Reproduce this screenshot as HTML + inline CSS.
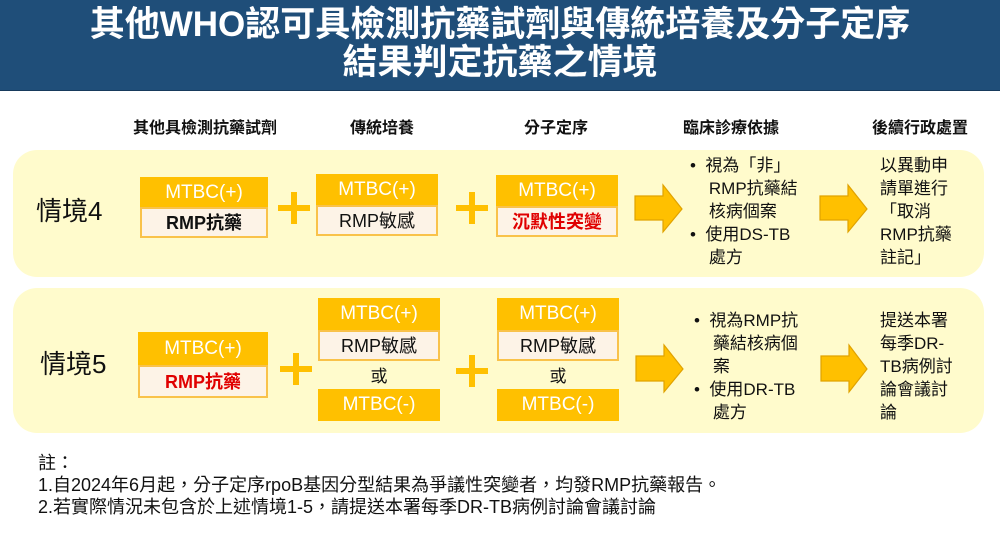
<!DOCTYPE html>
<html><head><meta charset="utf-8"><style>
body{margin:0;width:1000px;height:533px;background:#fff;position:relative;overflow:hidden;font-family:"Liberation Sans","Noto Sans CJK TC",sans-serif;}
.a{position:absolute;}
.hdr{left:0;top:0;width:1000px;height:91px;background:#1f4e79;border-bottom:1px solid #173a5c;color:#fff;font-weight:bold;font-size:35px;text-align:center;line-height:38px;padding-top:6px;box-sizing:border-box;white-space:nowrap;}
.col{top:114px;font-weight:bold;font-size:16px;text-align:center;width:200px;color:#111;}
.pan{background:#fffbcc;border-radius:24px;left:13px;width:971px;}
.t{background:#ffc000;color:#fff;font-size:19px;text-align:center;}
.b{background:#fdf3e7;border:2px solid #f9c24a;box-sizing:border-box;text-align:center;font-size:18px;color:#111;}
.plus{width:32px;height:32px;}
.plus:before{content:"";position:absolute;left:0;top:13px;width:32px;height:6px;background:#ffc000;}
.plus:after{content:"";position:absolute;left:13px;top:0;width:6px;height:32px;background:#ffc000;}
.lbl{font-size:26px;color:#111;}
.txt{font-size:17px;line-height:23px;color:#111;}
.note{left:38px;font-size:18px;line-height:22px;color:#111;white-space:nowrap;}
</style></head><body>
<div class="a hdr">其他WHO認可具檢測抗藥試劑與傳統培養及分子定序<br>結果判定抗藥之情境</div>
<div class="a col" style="left:105px">其他具檢測抗藥試劑</div>
<div class="a col" style="left:282px">傳統培養</div>
<div class="a col" style="left:456px">分子定序</div>
<div class="a col" style="left:631px">臨床診療依據</div>
<div class="a col" style="left:820px">後續行政處置</div>

<div class="a pan" style="top:150px;height:127px"></div>
<div class="a pan" style="top:288px;height:145px"></div>

<div class="a lbl" style="left:36px;top:191px">情境4</div>
<div class="a lbl" style="left:40px;top:344px">情境5</div>

<div class="a t" style="left:140px;top:177px;width:128px;height:31px;line-height:31px">MTBC(+)</div>
<div class="a b" style="left:140px;top:207px;width:128px;height:31px;line-height:28px;font-weight:bold">RMP抗藥</div>
<div class="a plus" style="left:278px;top:192px"></div>
<div class="a t" style="left:316px;top:174px;width:122px;height:31px;line-height:31px">MTBC(+)</div>
<div class="a b" style="left:316px;top:205px;width:122px;height:31px;line-height:28px">RMP敏感</div>
<div class="a plus" style="left:456px;top:192px"></div>
<div class="a t" style="left:496px;top:175px;width:122px;height:31px;line-height:31px">MTBC(+)</div>
<div class="a b" style="left:496px;top:206px;width:122px;height:31px;line-height:28px;font-weight:bold;color:#e00000">沉默性突變</div>

<svg class="a" style="left:0;top:0" width="1000" height="533">
<g fill="#ffc000" stroke="#e0a200" stroke-width="1.2">
<polygon points="635,196 663,196 663,185 682,209 663,232 663,220 635,220"/>
<polygon points="820,196 848,196 848,185 867,209 848,232 848,220 820,220"/>
<polygon points="636,356 664,356 664,345 683,369 664,392 664,381 636,381"/>
<polygon points="821,356 849,356 849,345 867,369 849,392 849,381 821,381"/>
</g></svg>

<div class="a txt" style="left:690px;top:154px">•&nbsp; 視為「非」<br>&nbsp;&nbsp;&nbsp;&nbsp;RMP抗藥結<br>&nbsp;&nbsp;&nbsp;&nbsp;核病個案<br>•&nbsp; 使用DS-TB<br>&nbsp;&nbsp;&nbsp;&nbsp;處方</div>
<div class="a txt" style="left:880px;top:154px">以異動申<br>請單進行<br>「取消<br>RMP抗藥<br>註記」</div>

<div class="a t" style="left:138px;top:332px;width:130px;height:34px;line-height:34px">MTBC(+)</div>
<div class="a b" style="left:138px;top:365px;width:130px;height:33px;line-height:30px;font-weight:bold;color:#e00000">RMP抗藥</div>
<div class="a plus" style="left:280px;top:353px"></div>
<div class="a t" style="left:318px;top:298px;width:122px;height:32px;line-height:32px">MTBC(+)</div>
<div class="a b" style="left:318px;top:330px;width:122px;height:31px;line-height:28px">RMP敏感</div>
<div class="a txt" style="left:318px;top:365px;width:122px;text-align:center">或</div>
<div class="a t" style="left:318px;top:389px;width:122px;height:32px;line-height:32px">MTBC(-)</div>
<div class="a plus" style="left:456px;top:355px"></div>
<div class="a t" style="left:497px;top:298px;width:122px;height:32px;line-height:32px">MTBC(+)</div>
<div class="a b" style="left:497px;top:330px;width:122px;height:31px;line-height:28px">RMP敏感</div>
<div class="a txt" style="left:497px;top:365px;width:122px;text-align:center">或</div>
<div class="a t" style="left:497px;top:389px;width:122px;height:32px;line-height:32px">MTBC(-)</div>

<div class="a txt" style="left:694px;top:309px">•&nbsp; 視為RMP抗<br>&nbsp;&nbsp;&nbsp;&nbsp;藥結核病個<br>&nbsp;&nbsp;&nbsp;&nbsp;案<br>•&nbsp; 使用DR-TB<br>&nbsp;&nbsp;&nbsp;&nbsp;處方</div>
<div class="a txt" style="left:880px;top:309px">提送本署<br>每季DR-<br>TB病例討<br>論會議討<br>論</div>

<div class="a note" style="top:452px">註：<br>1.自2024年6月起，分子定序rpoB基因分型結果為爭議性突變者，均發RMP抗藥報告。<br>2.若實際情況未包含於上述情境1-5，請提送本署每季DR-TB病例討論會議討論</div>
</body></html>
